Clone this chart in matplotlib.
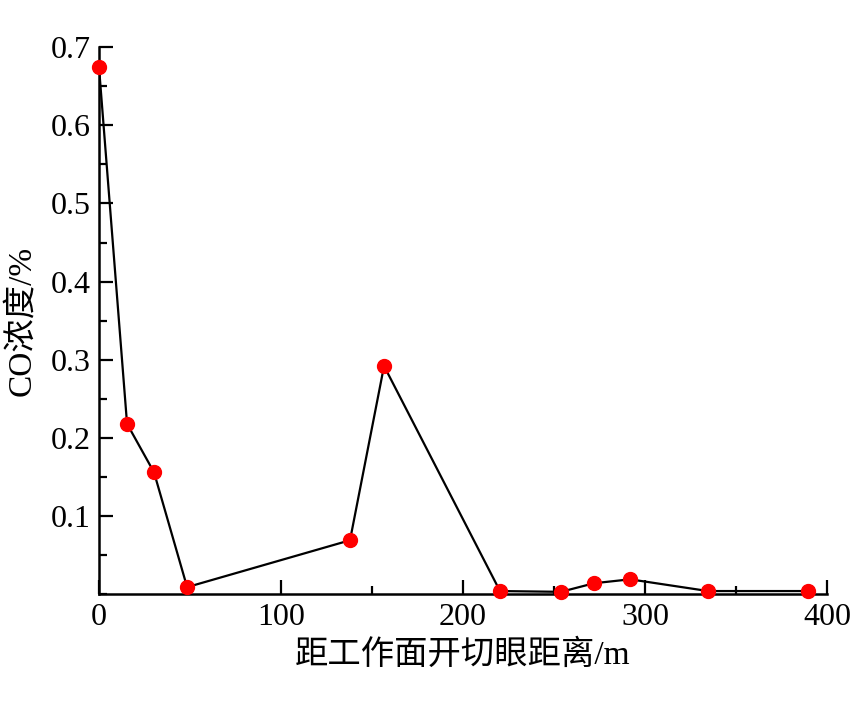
import matplotlib
matplotlib.use("Agg")
import matplotlib.pyplot as plt
from matplotlib.ticker import MultipleLocator, FixedLocator

distance = [0, 15.4, 30.2, 48.4, 137.9, 156.6, 220.3, 253.8, 272.0, 291.8, 334.6, 389.6]
co_conc = [0.674, 0.218, 0.156, 0.009, 0.069, 0.292, 0.004, 0.003, 0.014, 0.019, 0.004, 0.004]
x_ticks = [0, 100, 200, 300, 400]
y_ticks = [0.1, 0.2, 0.3, 0.4, 0.5, 0.6, 0.7]
y_tick_labels = ["0.1", "0.2", "0.3", "0.4", "0.5", "0.6", "0.7"]
x_label = "距工作面开切眼距离/m"
y_label = "CO浓度/%"

fam = ["Liberation Serif", "Noto Sans CJK SC"]
plt.rcParams["font.family"] = fam

fig = plt.figure(figsize=(8.5, 7.04), dpi=100)
ax = fig.add_axes([0.1165, 0.156, 0.8565, 0.777])

ax.plot(distance, co_conc, color="black", lw=1.6, zorder=2)
ax.plot(distance, co_conc, "o", color="#ff0000", ms=10, mec="#ff0000", zorder=3, clip_on=False)

ax.set_xlim(0, 400)
ax.set_ylim(0, 0.7)
ax.xaxis.set_major_locator(FixedLocator(x_ticks))
ax.xaxis.set_minor_locator(MultipleLocator(50))
ax.yaxis.set_major_locator(FixedLocator(y_ticks))
ax.set_yticklabels(y_tick_labels)
ax.yaxis.set_minor_locator(MultipleLocator(0.05))

for s in ["top", "right"]:
    ax.spines[s].set_visible(False)
for s in ["left", "bottom"]:
    ax.spines[s].set_linewidth(1.8)

ax.tick_params(which="major", direction="in", length=10, width=1.6, labelsize=23, pad=6)
ax.tick_params(which="minor", direction="in", length=6, width=1.6)

ax.set_xlabel(x_label, fontsize=24, family=fam, labelpad=6)
ax.set_ylabel(y_label, fontsize=24, family=fam, labelpad=10)

fig.savefig("out.png", dpi=100)
